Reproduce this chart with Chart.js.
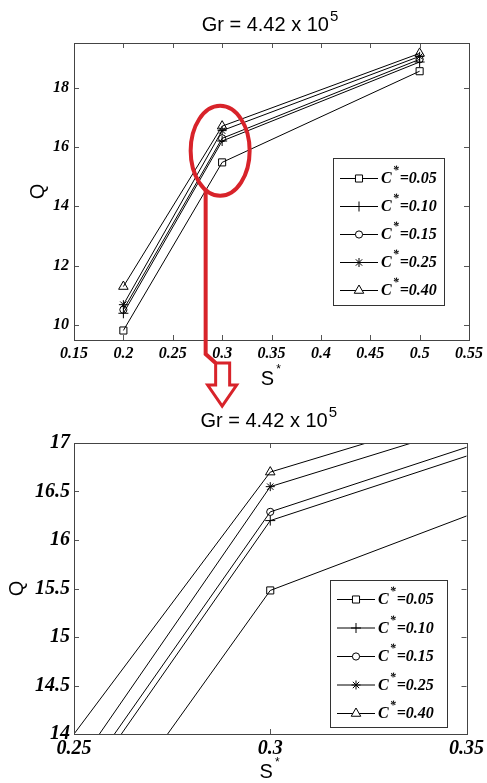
<!DOCTYPE html>
<html>
<head>
<meta charset="utf-8">
<script src="https://cdn.jsdelivr.net/npm/chart.js@4.4.0/dist/chart.umd.min.js"></script>
<style>
  body { margin: 0; background: #fff; width: 487px; height: 783px; overflow: hidden; position: relative; }
  #top { position: absolute; left: 0; top: 0; }
  #zoom { position: absolute; left: 0; top: 395px; }
</style>
</head>
<body>
<canvas id="top" width="487" height="420"></canvas>
<canvas id="zoom" width="487" height="388"></canvas>
<script>
// data
const sValues = [0.2, 0.3, 0.5];
const seriesLabels = ['C*=0.05', 'C*=0.10', 'C*=0.15', 'C*=0.25', 'C*=0.40'];
const q005 = [9.82, 15.48, 18.55];
const q010 = [10.40, 16.20, 18.86];
const q015 = [10.52, 16.29, 18.95];
const q025 = [10.69, 16.55, 19.05];
const q040 = [11.30, 16.70, 19.15];
const markers = ['rect', 'cross', 'circle', 'star', 'triangle'];
const markerSize = [5, 5, 3.6, 4.5, 5.5];

const xTicksTop = [0.15, 0.2, 0.25, 0.3, 0.35, 0.4, 0.45, 0.5, 0.55];
const xLabelsTop = ['0.15', '0.2', '0.25', '0.3', '0.35', '0.4', '0.45', '0.5', '0.55'];
const yTicksTop = [10, 12, 14, 16, 18];
const xTicksZoom = [0.25, 0.3, 0.35];
const xLabelsZoom = ['0.25', '0.3', '0.35'];
const yTicksZoom = [14, 14.5, 15, 15.5, 16, 16.5, 17];

const SERIF = 'bold italic 16px "Liberation Serif"';
const SANS = '"Liberation Sans", Arial, sans-serif';
const RED = '#d8232a';

function makeDatasets() {
  return [q005, q010, q015, q025, q040].map((q, i) => ({
    label: seriesLabels[i],
    data: sValues.map((s, j) => ({ x: s, y: q[j] })),
    borderColor: '#000',
    borderWidth: 1,
    backgroundColor: 'rgba(0,0,0,0)',
    pointStyle: markers[i],
    pointRadius: markerSize[i],
    pointBorderColor: '#000',
    pointBorderWidth: 1,
    pointBackgroundColor: 'rgba(0,0,0,0)',
    tension: 0
  }));
}

// title, axis titles, box, inward ticks and legend in matlab style
function frame(cfg) {
  return {
    id: 'frame',
    afterDatasetsDraw(chart) {
      const ctx = chart.ctx;
      const a = chart.chartArea;
      const xs = chart.scales.x, ys = chart.scales.y;
      ctx.save();
      // inward ticks
      ctx.strokeStyle = '#555';
      ctx.lineWidth = 1;
      ctx.beginPath();
      xs.ticks.forEach(t => {
        const px = Math.round(xs.getPixelForValue(t.value)) + 0.5;
        ctx.moveTo(px, a.bottom); ctx.lineTo(px, a.bottom - 5);
        ctx.moveTo(px, a.top); ctx.lineTo(px, a.top + 5);
      });
      ys.ticks.forEach(t => {
        const py = Math.round(ys.getPixelForValue(t.value)) + 0.5;
        ctx.moveTo(a.left, py); ctx.lineTo(a.left + 5, py);
        ctx.moveTo(a.right, py); ctx.lineTo(a.right - 5, py);
      });
      ctx.stroke();
      // box
      ctx.strokeStyle = '#444';
      ctx.strokeRect(Math.round(a.left) + 0.5, Math.round(a.top) + 0.5,
        Math.round(a.right - a.left), Math.round(a.bottom - a.top));

      // legend
      const lg = cfg.legend;
      ctx.fillStyle = '#fff';
      ctx.fillRect(lg.x, lg.y, lg.w, lg.h);
      ctx.strokeStyle = '#333';
      ctx.strokeRect(lg.x + 0.5, lg.y + 0.5, lg.w, lg.h);
      chart.data.datasets.forEach((ds, i) => {
        const y = lg.y + lg.first + i * lg.step;
        ctx.strokeStyle = '#000';
        ctx.beginPath();
        ctx.moveTo(lg.x + 7, y + 0.5); ctx.lineTo(lg.x + 45, y + 0.5);
        ctx.stroke();
        ctx.fillStyle = '#fff';
        Chart.helpers.drawPoint(ctx, {
          pointStyle: ds.pointStyle, radius: ds.pointRadius, borderWidth: 1, rotation: 0
        }, lg.x + 26, y + 0.5);
        const parts = ds.label.split('*');
        ctx.fillStyle = '#000';
        ctx.font = SERIF;
        ctx.textBaseline = 'middle';
        ctx.textAlign = 'left';
        let tx = lg.x + 48;
        ctx.fillText(parts[0], tx, y + 1);
        tx += ctx.measureText(parts[0]).width + 1;
        ctx.font = 'bold italic 12px "Liberation Serif"';
        ctx.fillText('*', tx, y - 7);
        tx += ctx.measureText('*').width + 1;
        ctx.font = SERIF;
        ctx.fillText(parts[1], tx, y + 1);
      });

      // chart title with superscript
      ctx.fillStyle = '#000';
      ctx.textBaseline = 'alphabetic';
      ctx.textAlign = 'left';
      ctx.font = '20px ' + SANS;
      const main = 'Gr = 4.42 x 10';
      const w = ctx.measureText(main).width;
      ctx.font = '15px ' + SANS;
      const ws = ctx.measureText('5').width;
      const cx = (a.left + a.right) / 2 - 2;
      const x0 = cx - (w + ws) / 2;
      ctx.font = '20px ' + SANS;
      ctx.fillText(main, x0, cfg.titleY);
      ctx.font = '15px ' + SANS;
      ctx.fillText('5', x0 + w + 1, cfg.titleY - 10);

      // x title S*
      ctx.font = '20px ' + SANS;
      const sw = ctx.measureText('S').width;
      ctx.fillText('S', cx - sw / 2 - 2, cfg.xTitleY);
      ctx.font = '12px ' + SANS;
      ctx.fillText('*', cx + sw / 2, cfg.xTitleY - 12);

      // y title Q, rotated
      ctx.save();
      ctx.translate(cfg.yTitleX, (a.top + a.bottom) / 2);
      ctx.rotate(-Math.PI / 2);
      ctx.font = '20px ' + SANS;
      ctx.textAlign = 'center';
      ctx.textBaseline = 'middle';
      ctx.fillText('Q', 0, 0);
      ctx.restore();

      if (cfg.callout) cfg.callout(chart);
      ctx.restore();
    }
  };
}

// red ellipse and hollow arrow pointing to the zoomed chart
function callout(chart) {
  const ctx = chart.ctx;
  const cx = chart.scales.x.getPixelForValue(0.298);
  const cy = chart.scales.y.getPixelForValue(15.87);
  const rx = 29.5, ry = 45;
  ctx.strokeStyle = RED;
  ctx.lineWidth = 4;
  ctx.beginPath();
  ctx.ellipse(cx, cy, rx, ry, 0, 0, Math.PI * 2);
  ctx.stroke();
  const lx = cx - 14.5;
  const ly = cy + ry * Math.sqrt(1 - Math.pow(14.5 / rx, 2));
  ctx.beginPath();
  ctx.moveTo(lx, ly);
  ctx.lineTo(lx, 354);
  ctx.lineTo(cx - 4.5, 363);
  ctx.stroke();
  ctx.lineWidth = 3;
  ctx.fillStyle = '#fff';
  ctx.beginPath();
  ctx.moveTo(cx - 4.5, 363);
  ctx.lineTo(cx + 9.5, 363);
  ctx.lineTo(cx + 9.5, 385);
  ctx.lineTo(cx + 16.5, 385);
  ctx.lineTo(cx + 2, 406);
  ctx.lineTo(cx - 12.5, 385);
  ctx.lineTo(cx - 4.5, 385);
  ctx.closePath();
  ctx.fill();
  ctx.stroke();
}

function makeChart(id, o) {
  const tickFont = { family: '"Liberation Serif", serif', style: 'italic', weight: 'bold', size: o.fontSize };
  return new Chart(document.getElementById(id), {
    type: 'line',
    data: { datasets: makeDatasets() },
    options: {
      responsive: false,
      animation: false,
      events: [],
      layout: { autoPadding: false, padding: o.padding },
      plugins: { legend: { display: false }, tooltip: { enabled: false }, title: { display: false } },
      scales: {
        x: {
          type: 'linear', min: o.xTicks[0], max: o.xTicks[o.xTicks.length - 1],
          grid: { display: false, drawTicks: false },
          border: { display: false },
          afterFit: s => { s.height = o.xHeight; },
          afterBuildTicks: s => { s.ticks = o.xTicks.map(v => ({ value: v })); },
          ticks: {
            font: tickFont, color: '#000', padding: o.xPad, maxRotation: 0, autoSkip: false,
            callback: (v, i) => o.xLabels[i]
          }
        },
        y: {
          min: o.yMin, max: o.yMax,
          grid: { display: false, drawTicks: false },
          border: { display: false },
          afterFit: s => { s.width = 74; },
          afterBuildTicks: s => { s.ticks = o.yTicks.map(v => ({ value: v })); },
          ticks: {
            font: tickFont, color: '#000', padding: o.yPad, autoSkip: false,
            callback: v => String(v)
          }
        }
      }
    },
    plugins: [frame(o.frame)]
  });
}

makeChart('top', {
  fontSize: 16,
  padding: { top: 43, right: 11, bottom: 30, left: 0 },
  xHeight: 50, xPad: 4, yPad: 5,
  xTicks: xTicksTop, xLabels: xLabelsTop,
  yMin: 9.5, yMax: 19.5, yTicks: yTicksTop,
  frame: {
    legend: { x: 333, y: 158, w: 111, h: 147, first: 20, step: 28 },
    titleY: 31, xTitleY: 385, yTitleX: 38, callout: callout
  }
});

makeChart('zoom', {
  fontSize: 20,
  padding: { top: 48, right: 15, bottom: 0, left: 0 },
  xHeight: 49, xPad: 3, yPad: 4,
  xTicks: xTicksZoom, xLabels: xLabelsZoom,
  yMin: 14, yMax: 17, yTicks: yTicksZoom,
  frame: {
    legend: { x: 330, y: 185, w: 117, h: 147, first: 19, step: 28.5 },
    titleY: 32, xTitleY: 383, yTitleX: 17
  }
});
</script>
</body>
</html>
